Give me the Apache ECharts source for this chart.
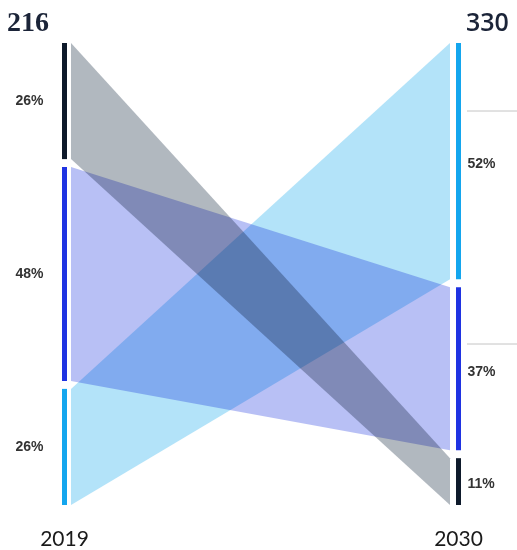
<!DOCTYPE html>
<html>
<head>
<meta charset="utf-8">
<style>
  html, body { margin: 0; padding: 0; background: #ffffff; }
  #chart { width: 517px; height: 550px; }
</style>
<script src="https://cdn.jsdelivr.net/npm/echarts@6/dist/echarts.min.js"></script>
</head>
<body>
<div id="chart"></div>
<script>
// Years shown at the foot of each column and the total above each column
const years = ['2019', '2030'];
const totals = [216, 330];

// Three segments, shares in percent for each year
const share2019 = [26, 48, 26];
const share2030 = [11, 37, 52];

// Stacking order, top to bottom, as segment indices
const order2019 = [0, 1, 2];
const order2030 = [2, 1, 0];

// Colours per segment: column bar and connecting band
const barColors = ['#0e1a2b', '#1f33e2', '#14a6ee'];
const bandColors = ['#b1b8bf', '#b8c0f5', '#b3e3f9'];

const GAP = 4;        // half-gap between stacked segments, px
const BAR_W = 5;

function stackRanges(shares, order) {
  const ranges = [];
  let cum = 0;
  order.forEach(function (idx) {
    ranges[idx] = [cum, cum + shares[idx]];
    cum += shares[idx];
  });
  return ranges;
}

const r2019 = stackRanges(share2019, order2019);
const r2030 = stackRanges(share2030, order2030);

const bandData = share2019.map(function (_, i) {
  return [r2019[i][0], r2019[i][1], r2030[i][0], r2030[i][1], i];
});

const barData = [];
share2019.forEach(function (v, i) { barData.push([0, r2019[i][0], r2019[i][1], v, i]); });
share2030.forEach(function (v, i) { barData.push([1, r2030[i][0], r2030[i][1], v, i]); });

function edge(api, side, s, e) {
  const p0 = api.coord([side, s]);
  const p1 = api.coord([side, e]);
  return [p0[0], p0[1] + (s > 0 ? GAP : 0), p1[1] - (e < 100 ? GAP : 0)];
}

const chart = echarts.init(document.getElementById('chart'), null, { renderer: 'canvas' });

chart.setOption({
  backgroundColor: '#ffffff',
  animation: false,
  grid: { left: 64.5, right: 58.5, top: 43, bottom: 43 },
  xAxis: {
    type: 'value', min: 0, max: 1, interval: 1,
    axisLine: { show: false }, axisTick: { show: false }, splitLine: { show: false },
    axisLabel: {
      margin: 24,
      formatter: function (v) { return years[v]; },
      fontFamily: 'Lato, "Open Sans", sans-serif', fontSize: 21, color: '#1a1a1a'
    }
  },
  yAxis: {
    type: 'value', min: 0, max: 100, inverse: true, show: false
  },
  graphic: [
    { type: 'text', left: 7, top: 10,
      style: { text: String(totals[0]), font: 'bold 28px "Liberation Serif", serif', fill: '#1b2438' } },
    { type: 'text', left: 466, top: 11,
      style: { text: String(totals[1]), font: '600 25px "Open Sans", sans-serif', fill: '#1b2438' } },
    { type: 'line', shape: { x1: 467, y1: 111, x2: 517, y2: 111 }, style: { stroke: '#c4c4c4', lineWidth: 1 } },
    { type: 'line', shape: { x1: 467, y1: 344, x2: 517, y2: 344 }, style: { stroke: '#c4c4c4', lineWidth: 1 } }
  ],
  series: [
    {
      type: 'custom',
      name: 'bands',
      coordinateSystem: 'cartesian2d',
      silent: true,
      data: bandData,
      encode: { x: -1, y: [0, 1, 2, 3] },
      renderItem: function (params, api) {
        const L = edge(api, 0, api.value(0), api.value(1));
        const R = edge(api, 1, api.value(2), api.value(3));
        const xl = L[0] + 6.5;
        const xr = R[0] - 8.5;
        return {
          type: 'polygon',
          shape: { points: [[xl, L[1]], [xr, R[1]], [xr, R[2]], [xl, L[2]]] },
          style: { fill: bandColors[api.value(4)], blend: 'multiply' }
        };
      }
    },
    {
      type: 'custom',
      name: 'bars',
      coordinateSystem: 'cartesian2d',
      silent: true,
      data: barData,
      encode: { x: 0, y: [1, 2] },
      renderItem: function (params, api) {
        const side = api.value(0);
        const E = edge(api, side, api.value(1), api.value(2));
        const mid = (E[1] + E[2]) / 2;
        return {
          type: 'group',
          children: [
            {
              type: 'rect',
              shape: { x: E[0] - BAR_W / 2, y: E[1], width: BAR_W, height: E[2] - E[1] },
              style: { fill: barColors[api.value(4)] }
            },
            {
              type: 'text',
              style: {
                text: api.value(3) + '%',
                x: side === 0 ? E[0] - 35 : E[0] + 9,
                y: mid + (side === 0 ? 0 : 3),
                align: side === 0 ? 'center' : 'left',
                verticalAlign: 'middle',
                font: 'bold 14px "Liberation Sans", Arial, sans-serif',
                fill: '#333333'
              }
            }
          ]
        };
      }
    }
  ]
});

// Overlapping bands darken each other: multiply them onto the white canvas
(function multiplyBands() {
  const zr = chart.getZr();
  zr.storage.getDisplayList(true).forEach(function (el) {
    if (el.type === 'polygon' && el.style && bandColors.indexOf(el.style.fill) >= 0) {
      el.style.blend = 'multiply';
      el.markRedraw();
    }
  });
  zr.refreshImmediately();
})();
</script>
</body>
</html>
